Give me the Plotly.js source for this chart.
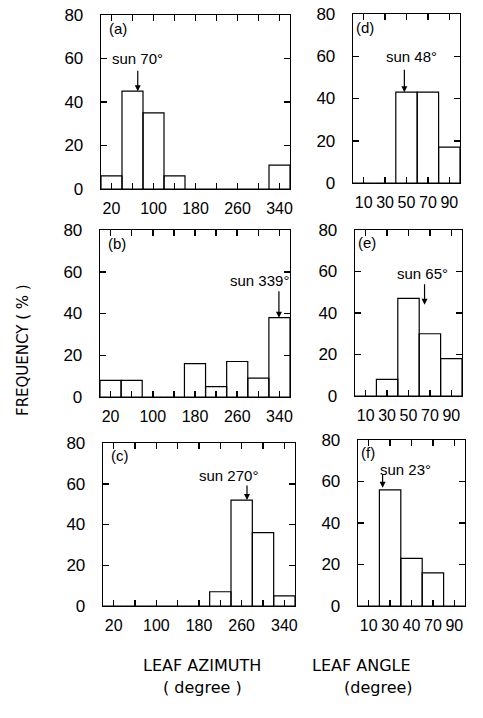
<!DOCTYPE html>
<html>
<head>
<meta charset="utf-8">
<script src="https://cdn.plot.ly/plotly-3.0.1.min.js"></script>
<style>html,body{margin:0;padding:0;background:#fff;}#chart{width:483px;height:718px;}</style>
</head>
<body>
<div id="chart"></div>
<script>
// ---- data ----
const azimuthBins = [20, 60, 100, 140, 180, 220, 260, 300, 340];
const azimuthTickVals = [20, 60, 100, 140, 180, 220, 260, 300, 340];
const azimuthTickText = ["20", "", "100", "", "180", "", "260", "", "340"];
const freqA = [6, 45, 35, 6, 0, 0, 0, 0, 11];
const freqB = [8, 8, 0, 0, 16, 5, 17, 9, 38];
const freqC = [0, 0, 0, 0, 0, 7, 52, 36, 5];

const angleBins = [10, 30, 50, 70, 90];
const angleTickText = ["10", "30", "50", "70", "90"];
const angleTickTextF = ["10", "30", "40", "70", "90"];
const freqD = [0, 0, 43, 43, 17];
const freqE = [0, 8, 47, 30, 18];
const freqF = [0, 56, 23, 16, 0];

const yTicks = [0, 20, 40, 60, 80];
const panelLabels = ["(a)", "(b)", "(c)", "(d)", "(e)", "(f)"];
const sunText = ["sun 70°", "sun 339°", "sun 270°", "sun 48°", "sun 65°", "sun 23°"];
const sunAngle = [70, 339, 270, 48, 65, 23];

// ---- layout helpers ----
const W = 483, H = 718;
const FONT = "Liberation Sans, Arial, sans-serif";
const NARROW = "Liberation Sans Narrow, Liberation Sans, Arial, sans-serif";
const TITLEFONT = "DejaVu Sans, Liberation Sans, sans-serif";
function xd(a, b) { return [a / W, b / W]; }
function yd(top, bot) { return [1 - bot / H, 1 - top / H]; }

const panels = [
  {data: freqA, bins: azimuthBins, w: 40, xr: [0, 360], xdom: xd(101, 290), ydom: yd(15, 189), tv: azimuthTickVals, tt: azimuthTickText, left: true},
  {data: freqB, bins: azimuthBins, w: 40, xr: [0, 360], xdom: xd(100, 290), ydom: yd(230, 397), tv: azimuthTickVals, tt: azimuthTickText, left: true},
  {data: freqC, bins: azimuthBins, w: 40, xr: [0, 360], xdom: xd(103, 295), ydom: yd(443, 606), tv: azimuthTickVals, tt: azimuthTickText, left: true},
  {data: freqD, bins: angleBins, w: 20, xr: [0, 100], xdom: xd(353, 460), ydom: yd(14, 183), tv: angleBins, tt: angleTickText, left: false},
  {data: freqE, bins: angleBins, w: 20, xr: [0, 100], xdom: xd(355, 462), ydom: yd(230, 396), tv: angleBins, tt: angleTickText, left: false},
  {data: freqF, bins: angleBins, w: 20, xr: [0, 100], xdom: xd(358, 465), ydom: yd(440, 606), tv: angleBins, tt: angleTickTextF, left: false}
];

const sunTextPos = [[70, 60], [303, 56], [236, 64], [55, 60], [63, 59], [44, 66]];
const sunHeadY = [45, 38, 52, 43, 44, 57];
const sunArrowLen = [22, 28, 16, 24, 22, 15];

const traces = [];
const layout = {
  width: W, height: H,
  margin: {l: 0, r: 0, t: 0, b: 0},
  paper_bgcolor: "#fff", plot_bgcolor: "#fff",
  showlegend: false,
  font: {family: FONT, color: "#000", size: 15},
  annotations: []
};

panels.forEach((p, i) => {
  const n = i + 1;
  const xa = n === 1 ? "x" : "x" + n;
  const ya = n === 1 ? "y" : "y" + n;
  traces.push({
    type: "bar",
    x: p.bins, y: p.data, width: p.w,
    xaxis: xa, yaxis: ya,
    marker: {color: "rgba(255,255,255,0)", line: {color: "#000", width: 1.2}},
    hoverinfo: "skip"
  });
  const xk = n === 1 ? "xaxis" : "xaxis" + n;
  const yk = n === 1 ? "yaxis" : "yaxis" + n;
  layout[xk] = {
    domain: p.xdom, range: p.xr, anchor: ya,
    tickmode: "array", tickvals: p.tv, ticktext: p.tt,
    ticks: "inside", ticklen: 6, tickwidth: 1.5, tickcolor: "#000",
    showline: true, linecolor: "#000", linewidth: 1.3, mirror: "ticks",
    showgrid: false, zeroline: false, fixedrange: true,
    ticklabelstandoff: 4,
    tickfont: {family: p.left ? FONT : NARROW, size: 16, color: "#000"}
  };
  layout[yk] = {
    domain: p.ydom, range: [0, 80], anchor: xa,
    tickmode: "array", tickvals: yTicks,
    ticks: "inside", ticklen: 6, tickwidth: 1.5, tickcolor: "#000",
    showline: true, linecolor: "#000", linewidth: 1.3, mirror: "ticks",
    showgrid: false, zeroline: false, fixedrange: true,
    ticklabelstandoff: 13,
    tickfont: {family: FONT, size: 17, color: "#000"}
  };
  layout.annotations.push({
    xref: xa + " domain", yref: ya + " domain",
    x: p.left ? 0.03 : 0.01, y: 0.985, xanchor: "left", yanchor: "top",
    text: panelLabels[i], showarrow: false,
    font: {family: FONT, size: 15, color: "#000"}
  });
  layout.annotations.push({
    xref: xa, yref: ya, x: sunTextPos[i][0], y: sunTextPos[i][1],
    xanchor: "center", yanchor: "middle",
    text: sunText[i], showarrow: false,
    font: {family: FONT, size: 15, color: "#000"}
  });
  layout.annotations.push({
    xref: xa, yref: ya, x: sunAngle[i], y: sunHeadY[i],
    ax: 0, ay: -sunArrowLen[i], text: "", showarrow: true,
    arrowhead: 2, arrowsize: 1, arrowwidth: 1.2, arrowcolor: "#000"
  });
});

layout.annotations.push(
  {xref: "paper", yref: "paper", x: 12 / W, y: 1 - 350 / H, text: "FREQUENCY ( % )", textangle: -90,
   showarrow: false, font: {family: TITLEFONT, size: 15, color: "#000"}},
  {xref: "paper", yref: "paper", x: 202 / W, y: 1 - 677 / H, text: "LEAF AZIMUTH",
   showarrow: false, font: {family: TITLEFONT, size: 16, color: "#000"}},
  {xref: "paper", yref: "paper", x: 202 / W, y: 1 - 699 / H, text: "( degree )",
   showarrow: false, font: {family: TITLEFONT, size: 16, color: "#000"}},
  {xref: "paper", yref: "paper", x: 413 / W, y: 1 - 677 / H, text: "LEAF ANGLE",
   showarrow: false, font: {family: TITLEFONT, size: 16, color: "#000"}},
  {xref: "paper", yref: "paper", x: 415 / W, y: 1 - 699 / H, text: "(degree)",
   showarrow: false, font: {family: TITLEFONT, size: 16, color: "#000"}}
);

Plotly.newPlot("chart", traces, layout, {staticPlot: true, displayModeBar: false});
</script>
</body>
</html>
